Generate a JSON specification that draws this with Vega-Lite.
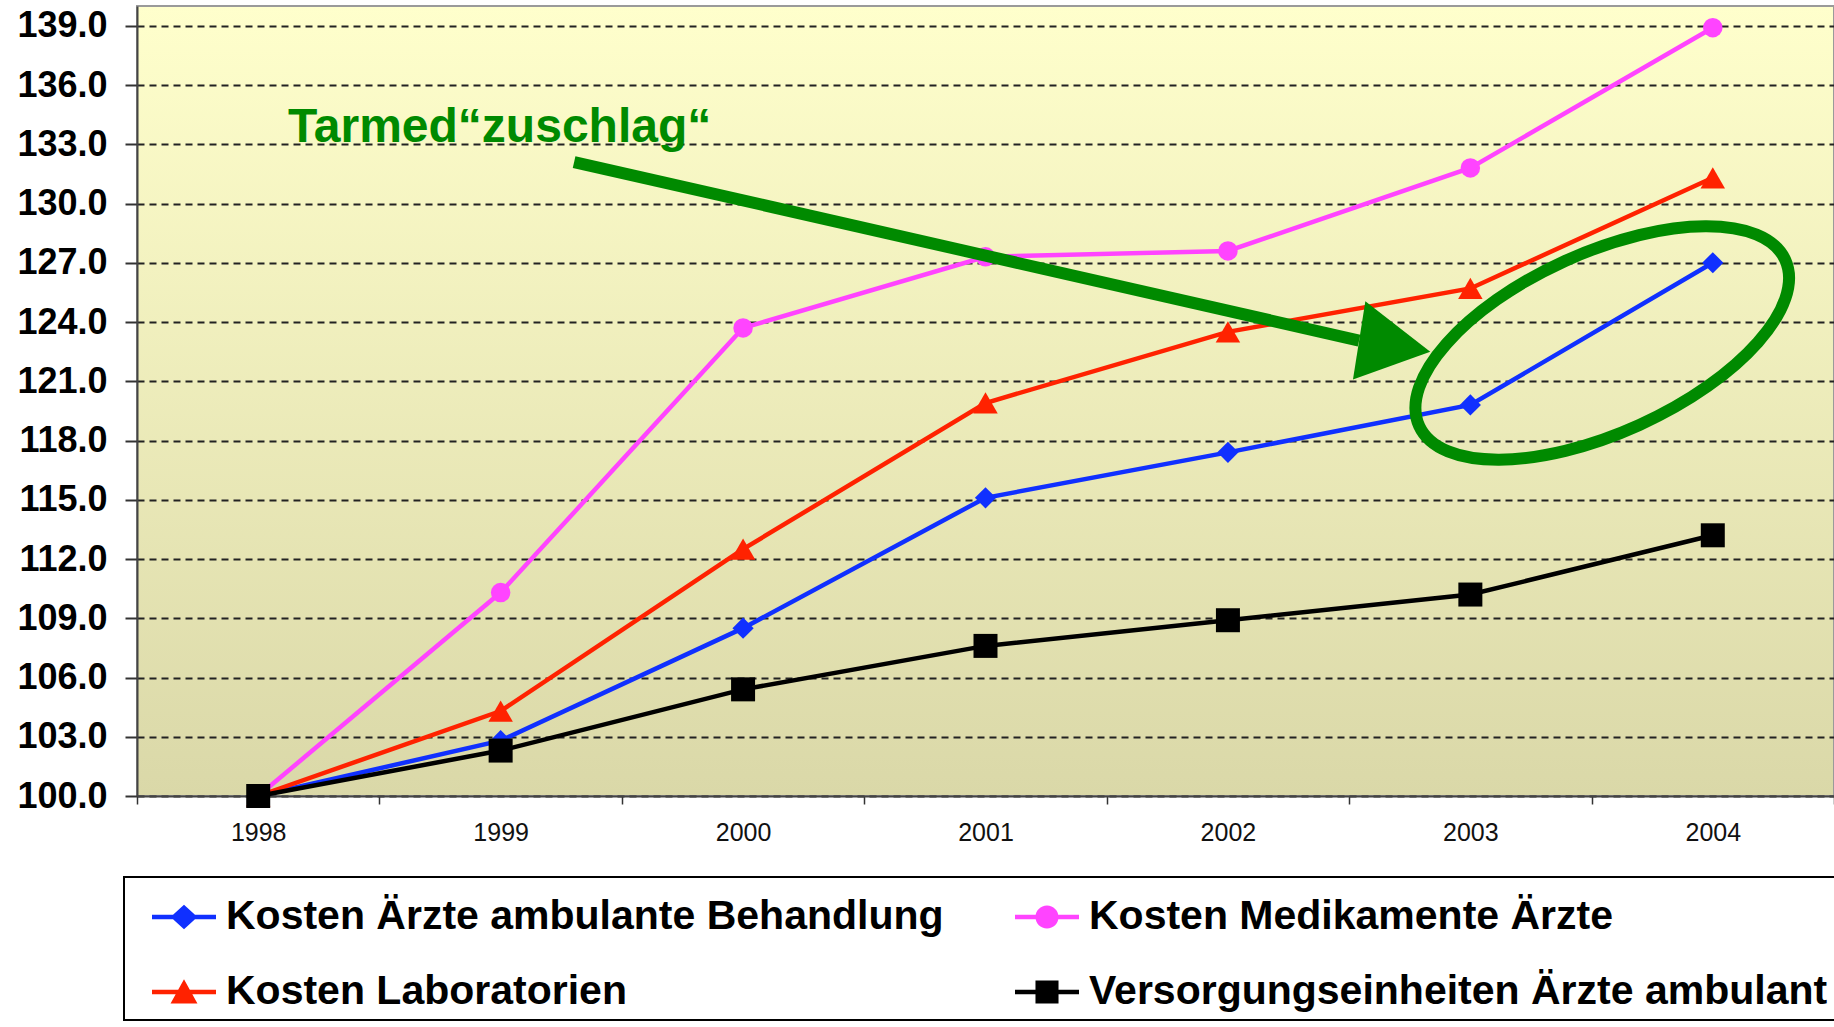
{
  "$schema": "https://vega.github.io/schema/vega-lite/v6.json",
  "width": 1697,
  "height": 790,
  "autosize": {"type": "none"},
  "padding": {"left": 137, "top": 6, "right": 0, "bottom": 231},
  "background": "white",
  "config": {
    "view": {
      "fill": {"gradient": "linear", "x1": 0, "y1": 0, "x2": 0, "y2": 1, "stops": [{"offset": 0, "color": "#FFFFCC"}, {"offset": 1, "color": "#DAD8A8"}]},
      "stroke": "#9a9a9a",
      "strokeWidth": 2
    },
    "font": "Liberation Sans",
    "axisY": {"title": null, "grid": true, "gridColor": "#222222", "gridDash": [7, 5], "gridWidth": 2, "domainColor": "#444444", "domainWidth": 2, "tickColor": "#333333", "tickSize": 12, "tickWidth": 2, "labelFont": "Liberation Sans", "labelFontSize": 36, "labelFontWeight": "bold", "labelColor": "#000000", "labelPadding": 18},
    "legend": {
      "title": null, "orient": "none", "legendX": -13, "legendY": 871, "columns": 2, "direction": "horizontal",
      "strokeColor": "#000000", "fillColor": "#FFFFFF", "padding": 8,
      "symbolSize": 4096, "symbolStrokeWidth": 0, "symbolOffset": 20, "symbolOpacity": 1,
      "labelOffset": 10, "labelFont": "Liberation Sans", "labelFontSize": 41, "labelFontWeight": "bold", "labelColor": "#000000", "labelLimit": 1200,
      "rowPadding": 23, "columnPadding": 51
    }
  },
  "datasets": {
    "series": [
      {"year": "1998", "series": "Kosten Ärzte ambulante Behandlung", "value": 100.0},
      {"year": "1999", "series": "Kosten Ärzte ambulante Behandlung", "value": 102.8},
      {"year": "2000", "series": "Kosten Ärzte ambulante Behandlung", "value": 108.5},
      {"year": "2001", "series": "Kosten Ärzte ambulante Behandlung", "value": 115.1},
      {"year": "2002", "series": "Kosten Ärzte ambulante Behandlung", "value": 117.4},
      {"year": "2003", "series": "Kosten Ärzte ambulante Behandlung", "value": 119.8},
      {"year": "2004", "series": "Kosten Ärzte ambulante Behandlung", "value": 127.0},
      {"year": "1998", "series": "Kosten Medikamente Ärzte", "value": 100.0},
      {"year": "1999", "series": "Kosten Medikamente Ärzte", "value": 110.3},
      {"year": "2000", "series": "Kosten Medikamente Ärzte", "value": 123.7},
      {"year": "2001", "series": "Kosten Medikamente Ärzte", "value": 127.3},
      {"year": "2002", "series": "Kosten Medikamente Ärzte", "value": 127.6},
      {"year": "2003", "series": "Kosten Medikamente Ärzte", "value": 131.8},
      {"year": "2004", "series": "Kosten Medikamente Ärzte", "value": 138.9},
      {"year": "1998", "series": "Kosten Laboratorien", "value": 100.0},
      {"year": "1999", "series": "Kosten Laboratorien", "value": 104.3},
      {"year": "2000", "series": "Kosten Laboratorien", "value": 112.5},
      {"year": "2001", "series": "Kosten Laboratorien", "value": 119.9},
      {"year": "2002", "series": "Kosten Laboratorien", "value": 123.5},
      {"year": "2003", "series": "Kosten Laboratorien", "value": 125.7},
      {"year": "2004", "series": "Kosten Laboratorien", "value": 131.3},
      {"year": "1998", "series": "Versorgungseinheiten Ärzte ambulant", "value": 100.0},
      {"year": "1999", "series": "Versorgungseinheiten Ärzte ambulant", "value": 102.3},
      {"year": "2000", "series": "Versorgungseinheiten Ärzte ambulant", "value": 105.4},
      {"year": "2001", "series": "Versorgungseinheiten Ärzte ambulant", "value": 107.6},
      {"year": "2002", "series": "Versorgungseinheiten Ärzte ambulant", "value": 108.9},
      {"year": "2003", "series": "Versorgungseinheiten Ärzte ambulant", "value": 110.2},
      {"year": "2004", "series": "Versorgungseinheiten Ärzte ambulant", "value": 113.2}
    ],
    "label": [{"x": 1998.123, "value": 133.11, "text": "Tarmed“zuschlag“"}],
    "shaft": [{"x": 1999.303, "value": 132.1, "x2": 2002.541, "value2": 123.06}],
    "head": [{"x": 2002.688, "value": 122.78}],
    "ring": [{"x": 2003.544, "value": 122.94}]
  },
  "resolve": {"scale": {"x": "independent"}},
  "layer": [
    {
      "data": {"name": "series"},
      "mark": {"type": "line", "strokeWidth": 4.5},
      "encoding": {
        "x": {
          "field": "year", "type": "ordinal",
          "scale": {"type": "band", "paddingInner": 0, "paddingOuter": 0},
          "axis": {"title": null, "tickBand": "extent", "labelAngle": 0, "grid": false, "domainColor": "#444444", "domainWidth": 2, "tickColor": "#333333", "tickSize": 8, "tickWidth": 1.5, "labelFont": "Liberation Sans", "labelFontSize": 25, "labelColor": "#111111", "labelPadding": 16}
        },
        "y": {
          "field": "value", "type": "quantitative", "title": null,
          "scale": {"domain": [100, 140], "nice": false, "zero": false},
          "axis": {"values": [100, 103, 106, 109, 112, 115, 118, 121, 124, 127, 130, 133, 136, 139], "format": ".1f"}
        },
        "color": {
          "field": "series", "type": "nominal",
          "scale": {"domain": ["Kosten Ärzte ambulante Behandlung", "Kosten Medikamente Ärzte", "Kosten Laboratorien", "Versorgungseinheiten Ärzte ambulant"], "range": ["#1030FF", "#FF44FF", "#FF2200", "#000000"]},
          "legend": {
            "encode": {
              "legend": {"update": {"strokeWidth": {"value": 2}}},
              "symbols": {"update": {
                "size": {"value": 4096},
                "opacity": {"value": 1},
                "strokeWidth": {"value": 0},
                "fill": {"scale": "color", "field": "value"},
                "shape": {"signal": "datum.value === 'Kosten Ärzte ambulante Behandlung' ? 'M-1,-0.07H1V0.07H-1Z M0,-0.38L0.42,0L0,0.38L-0.42,0Z' : datum.value === 'Kosten Medikamente Ärzte' ? 'M-1,-0.07H1V0.07H-1Z M-0.36,0A0.36,0.36 0 1,1 0.36,0A0.36,0.36 0 1,1 -0.36,0Z' : datum.value === 'Kosten Laboratorien' ? 'M-1,-0.07H1V0.07H-1Z M0,-0.4L0.42,0.36L-0.42,0.36Z' : 'M-1,-0.07H1V0.07H-1Z M-0.36,-0.36H0.36V0.36H-0.36Z'"}
              }}
            }
          }
        }
      }
    },
    {
      "data": {"name": "series"},
      "transform": [{"filter": "datum.series === 'Kosten Ärzte ambulante Behandlung'"}],
      "mark": {"type": "point", "shape": "diamond", "size": 450, "filled": true, "opacity": 1, "strokeWidth": 0, "color": "#1030FF"},
      "encoding": {
        "x": {"field": "year", "type": "ordinal", "scale": {"type": "band", "paddingInner": 0, "paddingOuter": 0}, "axis": null},
        "y": {"field": "value", "type": "quantitative", "title": null, "scale": {"domain": [100, 140], "nice": false, "zero": false}, "axis": {"values": [100, 103, 106, 109, 112, 115, 118, 121, 124, 127, 130, 133, 136, 139], "format": ".1f"}}
      }
    },
    {
      "data": {"name": "series"},
      "transform": [{"filter": "datum.series === 'Kosten Medikamente Ärzte'"}],
      "mark": {"type": "point", "shape": "circle", "size": 380, "filled": true, "opacity": 1, "strokeWidth": 0, "color": "#FF44FF"},
      "encoding": {
        "x": {"field": "year", "type": "ordinal", "scale": {"type": "band", "paddingInner": 0, "paddingOuter": 0}, "axis": null},
        "y": {"field": "value", "type": "quantitative", "title": null, "scale": {"domain": [100, 140], "nice": false, "zero": false}, "axis": {"values": [100, 103, 106, 109, 112, 115, 118, 121, 124, 127, 130, 133, 136, 139], "format": ".1f"}}
      }
    },
    {
      "data": {"name": "series"},
      "transform": [{"filter": "datum.series === 'Kosten Laboratorien'"}],
      "mark": {"type": "point", "shape": "triangle-up", "size": 600, "filled": true, "opacity": 1, "strokeWidth": 0, "color": "#FF2200"},
      "encoding": {
        "x": {"field": "year", "type": "ordinal", "scale": {"type": "band", "paddingInner": 0, "paddingOuter": 0}, "axis": null},
        "y": {"field": "value", "type": "quantitative", "title": null, "scale": {"domain": [100, 140], "nice": false, "zero": false}, "axis": {"values": [100, 103, 106, 109, 112, 115, 118, 121, 124, 127, 130, 133, 136, 139], "format": ".1f"}}
      }
    },
    {
      "data": {"name": "series"},
      "transform": [{"filter": "datum.series === 'Versorgungseinheiten Ärzte ambulant'"}],
      "mark": {"type": "point", "shape": "square", "size": 576, "filled": true, "opacity": 1, "strokeWidth": 0, "color": "#000000"},
      "encoding": {
        "x": {"field": "year", "type": "ordinal", "scale": {"type": "band", "paddingInner": 0, "paddingOuter": 0}, "axis": null},
        "y": {"field": "value", "type": "quantitative", "title": null, "scale": {"domain": [100, 140], "nice": false, "zero": false}, "axis": {"values": [100, 103, 106, 109, 112, 115, 118, 121, 124, 127, 130, 133, 136, 139], "format": ".1f"}}
      }
    },
    {
      "data": {"name": "label"},
      "mark": {"type": "text", "align": "left", "baseline": "alphabetic", "font": "Liberation Sans", "fontSize": 48, "fontWeight": "bold", "color": "#008A00"},
      "encoding": {
        "x": {"field": "x", "type": "quantitative", "scale": {"domain": [1997.5, 2004.5], "nice": false, "zero": false}, "axis": null},
        "y": {"field": "value", "type": "quantitative", "title": null, "scale": {"domain": [100, 140], "nice": false, "zero": false}, "axis": {"values": [100, 103, 106, 109, 112, 115, 118, 121, 124, 127, 130, 133, 136, 139], "format": ".1f"}},
        "text": {"field": "text"}
      }
    },
    {
      "data": {"name": "shaft"},
      "mark": {"type": "rule", "strokeWidth": 12, "strokeCap": "butt", "color": "#008A00"},
      "encoding": {
        "x": {"field": "x", "type": "quantitative", "scale": {"domain": [1997.5, 2004.5], "nice": false, "zero": false}, "axis": null},
        "x2": {"field": "x2"},
        "y": {"field": "value", "type": "quantitative", "title": null, "scale": {"domain": [100, 140], "nice": false, "zero": false}, "axis": {"values": [100, 103, 106, 109, 112, 115, 118, 121, 124, 127, 130, 133, 136, 139], "format": ".1f"}},
        "y2": {"field": "value2"}
      }
    },
    {
      "data": {"name": "head"},
      "mark": {"type": "point", "shape": "M0.9,0L-0.9,0.99L-0.9,-0.99Z", "size": 6400, "angle": 9, "filled": true, "opacity": 1, "strokeWidth": 0, "color": "#008A00"},
      "encoding": {
        "x": {"field": "x", "type": "quantitative", "scale": {"domain": [1997.5, 2004.5], "nice": false, "zero": false}, "axis": null},
        "y": {"field": "value", "type": "quantitative", "title": null, "scale": {"domain": [100, 140], "nice": false, "zero": false}, "axis": {"values": [100, 103, 106, 109, 112, 115, 118, 121, 124, 127, 130, 133, 136, 139], "format": ".1f"}}
      }
    },
    {
      "data": {"name": "ring"},
      "mark": {"type": "point", "shape": "M-1,0A1,0.448 0 1,1 1,0A1,0.448 0 1,1 -1,0Z", "size": 161604, "angle": 335.6, "filled": false, "opacity": 1, "strokeWidth": 12, "color": "#008A00"},
      "encoding": {
        "x": {"field": "x", "type": "quantitative", "scale": {"domain": [1997.5, 2004.5], "nice": false, "zero": false}, "axis": null},
        "y": {"field": "value", "type": "quantitative", "title": null, "scale": {"domain": [100, 140], "nice": false, "zero": false}, "axis": {"values": [100, 103, 106, 109, 112, 115, 118, 121, 124, 127, 130, 133, 136, 139], "format": ".1f"}}
      }
    }
  ]
}
